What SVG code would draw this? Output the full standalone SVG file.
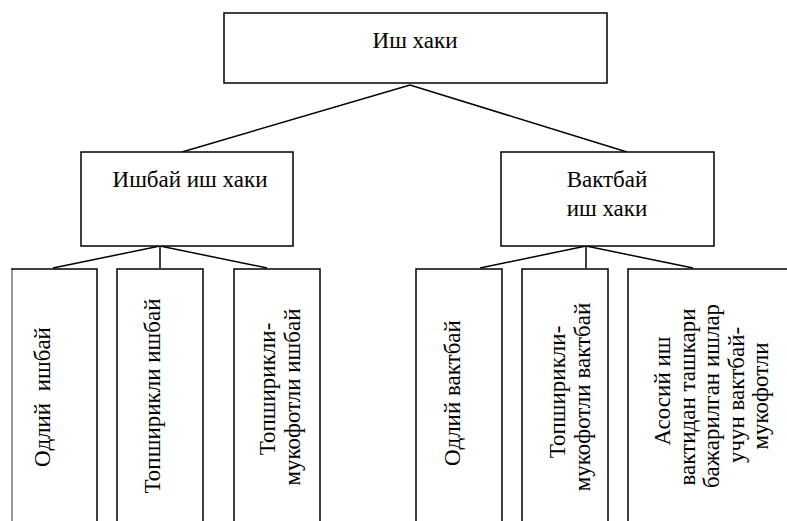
<svg xmlns="http://www.w3.org/2000/svg" width="787" height="521" viewBox="0 0 787 521">
<style>
  .box { fill: #fff; stroke: #000; stroke-width: 1.5; }
  .conn { fill: none; stroke: #000; stroke-width: 1.5; }
  .t { font-family: 'Liberation Serif', 'DejaVu Serif', serif; font-size: 23px; fill: #000; text-anchor: middle; }
</style>
<rect width="787" height="521" fill="#fff"/>
<g id="connectors">
  <polyline class="conn" points="182,152 410,85 627,152"/>
  <polyline class="conn" points="53,268 160,246 267,268"/>
  <line class="conn" x1="160" y1="246" x2="160" y2="268"/>
  <polyline class="conn" points="480,268 586,246 693,268"/>
  <line class="conn" x1="586" y1="246" x2="586" y2="268"/>
</g>
<g id="root">
  <rect class="box" x="224" y="13" width="383" height="70"/>
  <text class="t" font-family="Liberation Serif" x="415" y="48">Иш хаки</text>
</g>
<g id="piece">
  <rect class="box" x="81" y="152" width="212" height="94"/>
  <text class="t" font-family="Liberation Serif" x="190" y="187">Ишбай иш хаки</text>
</g>
<g id="time">
  <rect class="box" x="501" y="152" width="213" height="94"/>
  <text class="t" font-family="Liberation Serif" x="607" y="187">Вактбай</text>
  <text class="t" font-family="Liberation Serif" x="607" y="216">иш хаки</text>
</g>
<g id="piece-simple">
  <rect class="box" x="12" y="269" width="85" height="270"/>
  <line x1="12" y1="270" x2="12" y2="521" stroke="#999" stroke-width="2"/>
  <text class="t" font-family="Liberation Serif" xml:space="preserve" transform="translate(50,397) rotate(-90)">Одлий  ишбай</text>
</g>
<g id="piece-task">
  <rect class="box" x="117" y="269" width="86" height="270"/>
  <text class="t" font-family="Liberation Serif" transform="translate(160,396) rotate(-90)">Топширикли ишбай</text>
</g>
<g id="piece-task-bonus">
  <rect class="box" x="234" y="269" width="86" height="270"/>
  <text class="t" font-family="Liberation Serif" transform="translate(275,389) rotate(-90)">Топширикли-</text>
  <text class="t" font-family="Liberation Serif" transform="translate(300,397) rotate(-90)">мукофотли ишбай</text>
</g>
<g id="time-simple">
  <rect class="box" x="416" y="269" width="86" height="270"/>
  <text class="t" font-family="Liberation Serif" transform="translate(460,393) rotate(-90)">Одлий вактбай</text>
</g>
<g id="time-task-bonus">
  <rect class="box" x="522" y="269" width="86" height="270"/>
  <text class="t" font-family="Liberation Serif" transform="translate(565,392) rotate(-90)">Топширикли-</text>
  <text class="t" font-family="Liberation Serif" transform="translate(590,397) rotate(-90)">мукофотли вактбай</text>
</g>
<g id="time-overtime">
  <rect class="box" x="628" y="269" width="165" height="270"/>
  <text class="t" font-family="Liberation Serif" transform="translate(670,391) rotate(-90)">Асосий иш</text>
  <text class="t" font-family="Liberation Serif" transform="translate(694.5,397) rotate(-90)">вактидан ташкари</text>
  <text class="t" font-family="Liberation Serif" transform="translate(719,396) rotate(-90)">бажарилган ишлар</text>
  <text class="t" font-family="Liberation Serif" transform="translate(743.5,395) rotate(-90)">учун вактбай-</text>
  <text class="t" font-family="Liberation Serif" transform="translate(768,396) rotate(-90)">мукофотли</text>
</g>
</svg>
